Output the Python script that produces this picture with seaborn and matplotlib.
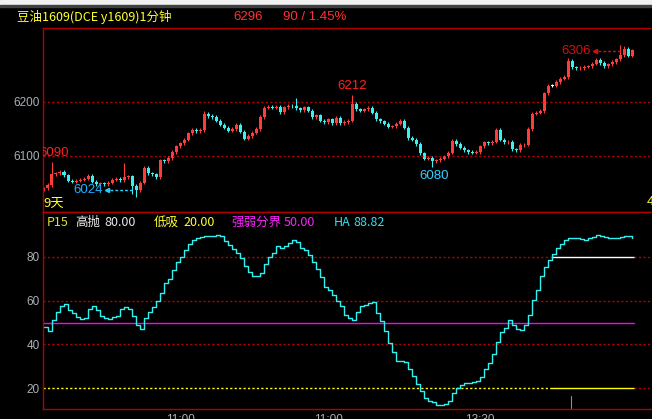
import numpy as np
import pandas as pd
import seaborn as sns
import matplotlib.pyplot as plt
from matplotlib.patches import Rectangle

# 1-minute closes (one value every ~4 px)
close = [6040, 6046, 6066, 6068, 6071, 6064, 6054, 6052, 6054, 6056,
         6058, 6063, 6052, 6048, 6049, 6047, 6050, 6056, 6058, 6055,
         6060, 6062, 6044, 6036, 6050, 6078, 6068, 6066, 6060, 6092,
         6090, 6096, 6107, 6118, 6123, 6130, 6142, 6148, 6146, 6148,
         6178, 6174, 6172, 6165, 6158, 6152, 6147, 6150, 6158, 6145,
         6132, 6137, 6143, 6150, 6172, 6189, 6191, 6189, 6191, 6181,
         6190, 6193, 6192, 6188, 6185, 6190, 6184, 6172, 6175, 6165,
         6163, 6168, 6161, 6170, 6161, 6163, 6165, 6196, 6186, 6184,
         6186, 6189, 6180, 6168, 6164, 6160, 6154, 6155, 6160, 6165,
         6152, 6133, 6130, 6122, 6105, 6095, 6097, 6090, 6092, 6095,
         6099, 6106, 6128, 6122, 6115, 6110, 6107, 6106, 6107, 6118,
         6125, 6124, 6126, 6148, 6130, 6125, 6126, 6112, 6111, 6120,
         6121, 6150, 6178, 6180, 6183, 6216, 6230, 6230, 6237, 6243,
         6246, 6276, 6264, 6262, 6263, 6265, 6266, 6271, 6278, 6272,
         6266, 6270, 6274, 6279, 6287, 6299, 6286, 6296]

# P15 oscillator (HA line)
ha_line = [48, 46, 51, 55, 57.5, 58.5, 55.5, 54.5, 52.5, 51.5,
           52, 56, 57.5, 55.5, 53, 52, 51.5, 52.5, 53, 56,
           57, 56, 52.8, 49, 47, 52, 55, 57, 60, 63.5,
           68, 70, 74, 77.5, 80, 83.4, 86, 87.8, 88.7, 89.3,
           89.5, 89.8, 89.6, 90, 89.5, 87.5, 85.3, 83.8, 82, 79.5,
           76, 73, 71.5, 71.2, 72.5, 77, 80, 81.8, 84.9, 84.3,
           85, 86.4, 87.8, 87, 84.3, 83, 81, 77.5, 74.5, 71,
           66.4, 64.7, 62.4, 60, 57.5, 53.6, 52, 51.3, 55, 57.4,
           58, 59, 59.5, 54.4, 50.5, 46, 40.5, 36.5, 32.2, 32.2,
           31.7, 28.5, 25.3, 22, 18.5, 15.4, 14.2, 13.4, 12.4, 12.4,
           12.9, 13.9, 17.5, 20, 21.5, 22.2, 22.5, 22.7, 23.2, 25,
           28.9, 31.6, 35.8, 41, 45.5, 47.5, 51.3, 49, 47, 46.5,
           49, 53.6, 60.5, 65, 71.1, 75.5, 78.8, 81.4, 83.9, 86,
           87.6, 88.7, 88.7, 88.6, 88.2, 88, 88.7, 89.3, 89.9, 89.8,
           89, 88.7, 88.7, 88.8, 89, 89.5, 89.6, 88.82]

# wick extremes that stick out
spike_high = {2: 6089, 20: 6087, 40: 6184, 63: 6207, 77: 6212, 131: 6282, 144: 6306, 145: 6304}
spike_low = {23: 6024, 97: 6080, 22: 6030}

time_ticks = [34, 71, 109]
time_labels = ['11:00', '11:00', '13:30']

df = pd.DataFrame({'close': close})
df['open'] = df['close'].shift(1).fillna(df['close'].iloc[0] - 3)
df['bar'] = np.arange(len(df))
df['high'] = df[['open', 'close']].max(axis=1) + 3
df['low'] = df[['open', 'close']].min(axis=1) - 3
for k, v in spike_high.items():
    df.loc[k, 'high'] = v
for k, v in spike_low.items():
    df.loc[k, 'low'] = v
df['color'] = np.where(df['close'] > df['open'], '#ff3c3c',
                       np.where(df['close'] < df['open'], '#3cf0f0', '#ffffff'))

sns.set_theme(style='dark', rc={'axes.facecolor': 'black', 'figure.facecolor': 'black',
                                'axes.edgecolor': '#a00000'})
plt.rcParams['font.family'] = ['Noto Sans CJK SC', 'DejaVu Sans']

W, H = 652, 419
fig = plt.figure(figsize=(W / 100, H / 100), dpi=100, facecolor='black')


def fx(px):
    return px / W


def fy(py):
    return 1 - py / H


ax1 = fig.add_axes([fx(43), fy(212), fx(652 - 43), (212 - 28) / H])
ax2 = fig.add_axes([fx(43), fy(409), fx(652 - 43), (409 - 212) / H])

xlo, xhi = -0.25, 152
red = '#b00000'
dots = (0, (1.6, 1.6))

# ---- price panel ----
ax1.set_xlim(xlo, xhi)
ax1.set_ylim(5996, 6337)
for p in [6100, 6200]:
    ax1.axhline(p, color=red, lw=1, ls=dots)
body = (df['close'] - df['open']).abs().clip(lower=0.9)
ax1.vlines(df['bar'], df['low'], df['high'], colors=df['color'], lw=0.8)
ax1.bar(df['bar'], body, bottom=df[['open', 'close']].min(axis=1), width=0.75,
        color=df['color'], linewidth=0)

ax1.text(-1.25, 6105.5, '6090', color='#ff2020', fontsize=9.5, family='Liberation Sans',
         ha='left', va='center', clip_on=True)
ax1.text(14.7, 6037, '6024', color='#20b0ff', fontsize=9.5, family='Liberation Sans',
         ha='right', va='center')
ax1.plot([15.8], [6037], marker='<', color='#20d0ff', ms=3)
ax1.plot([16.5, 22.3], [6037, 6037], color='#20d0ff', lw=1, ls=(0, (2, 1.5)))
ax1.text(77, 6229.6, '6212', color='#ff2020', fontsize=9.5, family='Liberation Sans',
         ha='center', va='center')
ax1.text(97.5, 6063, '6080', color='#30d0ff', fontsize=9.5, family='Liberation Sans',
         ha='center', va='center')
ax1.text(136.6, 6293.5, '6306', color='#d01010', fontsize=9.5, family='Liberation Sans',
         ha='right', va='center')
ax1.plot([137.8], [6293.5], marker='<', color='#d01010', ms=3)
ax1.plot([138.5, 144], [6293.5, 6293.5], color='#d01010', lw=1, ls=(0, (2, 1.5)))

ax1.set_yticks([6100, 6200])
ax1.set_xticks([])
ax1.tick_params(axis='y', length=0, pad=2.5, labelcolor='#a8b0b8', labelsize=8.5)
for t in ax1.get_yticklabels():
    t.set_family('Liberation Sans')

# ---- oscillator panel ----
ax2.set_xlim(xlo, xhi)
ax2.set_ylim(10.4, 100.6)
split, end = 127, 147.5
ax2.plot([xlo, split], [80, 80], color=red, lw=1, ls=dots)
ax2.plot([split, end], [80, 80], color='white', lw=1)
ax2.plot([end, xhi], [80, 80], color=red, lw=1, ls=dots)
for v in [60, 40]:
    ax2.axhline(v, color=red, lw=1, ls=dots)
ax2.plot([xlo, end], [50, 50], color='#ff00ff', lw=1)
ax2.plot([xlo, split], [20, 20], color='#ffff00', lw=1, ls=dots)
ax2.plot([split, end], [20, 20], color='#ffff00', lw=1)
ax2.plot([end, xhi], [20, 20], color=red, lw=1, ls=dots)
sns.lineplot(x=df['bar'], y=ha_line, ax=ax2, color='#30f0f0', lw=1.0, drawstyle='steps-post')
ax2.plot([131.75, 131.75], [10.4, 16.5], color='#909090', lw=0.8)

ax2.set_yticks([20, 40, 60, 80])
ax2.set_xticks(time_ticks)
ax2.set_xticklabels(time_labels)
ax2.set_xlabel('')
ax2.set_ylabel('')
ax2.tick_params(axis='both', length=0, labelcolor='#a8b0b8', labelsize=8.5)
ax2.tick_params(axis='y', pad=2.5)
ax2.tick_params(axis='x', pad=3.5)
for t in ax2.get_yticklabels() + ax2.get_xticklabels():
    t.set_family('Liberation Sans')

for ax in (ax1, ax2):
    ax.grid(False)
    ax.spines['right'].set_visible(False)
    for s in ['left', 'top', 'bottom']:
        ax.spines[s].set_color(red)
        ax.spines[s].set_linewidth(1)

# ---- header and labels ----
fig.patches.append(Rectangle((0, fy(5)), 1, 5 / H, transform=fig.transFigure,
                             color='#f0f0f0', zorder=0))
fig.patches.append(Rectangle((0, fy(7)), 1, 2 / H, transform=fig.transFigure,
                             color='#404040', zorder=0))

fig.text(fx(17), fy(17), '豆油1609(DCE y1609)1分钟', color='#ffff30', fontsize=9, va='center')
fig.text(fx(233), fy(17), '6296', color='#ff3030', fontsize=9.5, va='center', family='Liberation Sans')
fig.text(fx(283), fy(17), '90 / 1.45%', color='#ff3030', fontsize=9.5, va='center', family='Liberation Sans')

fig.text(fx(43), fy(203), '9天', color='#ffff30', fontsize=9.5, va='center')
fig.text(fx(647), fy(202), '4', color='#ffff30', fontsize=9.5, va='center', family='Liberation Sans')

legend_items = [(47, 'P15', '#e0e020'), (75, '高抛', '#f0f0f0'), (104, '80.00', '#e8e8f0'),
                (154, '低吸', '#ffff30'), (183, '20.00', '#ffff30'),
                (231, '强弱分界', '#ff20ff'), (284, '50.00', '#ff20ff'),
                (334, 'HA', '#30e0f0'), (353, '88.82', '#30e0f0')]
for px, txt, col in legend_items:
    fig.text(fx(px), fy(222), txt, color=col, fontsize=9, va='center')

fig.savefig('out.png', dpi=100, facecolor='black')
